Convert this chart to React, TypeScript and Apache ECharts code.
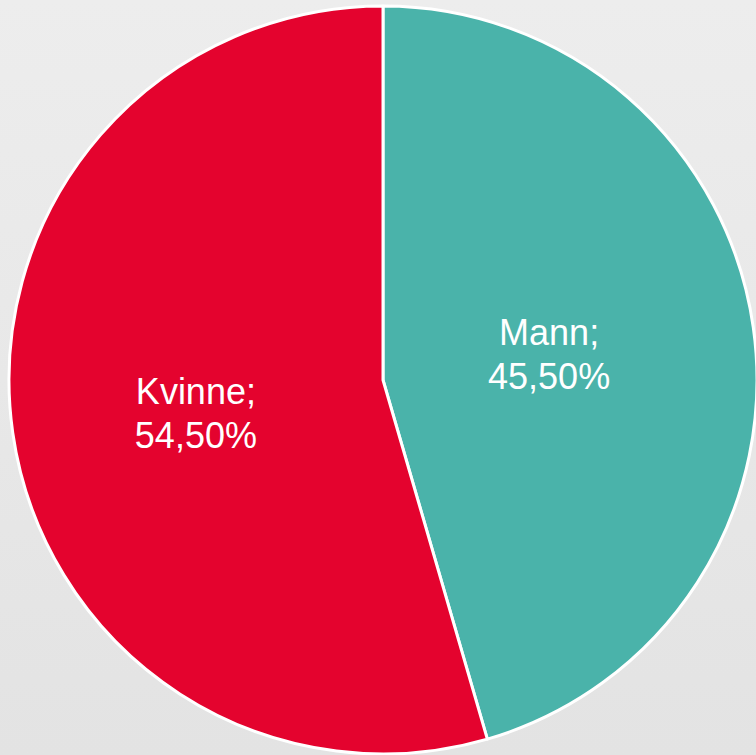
import React, { useEffect, useRef } from "react";
import * as echarts from "echarts";

const categories = ["Mann", "Kvinne"];
const values = [45.5, 54.5];
const colors = ["#4AB3AA", "#E4032E"];
const labelOffsets: number[][] = [[-22, 1], [1, 7]];

export default function App() {
  const ref = useRef<HTMLDivElement>(null);
  useEffect(() => {
    if (!ref.current) return;
    const chart = echarts.init(ref.current, null, { renderer: "svg" });
    chart.setOption({
      animation: false,
      backgroundColor: {
        type: "linear",
        x: 0,
        y: 0,
        x2: 0,
        y2: 1,
        colorStops: [
          { offset: 0, color: "#EDEDED" },
          { offset: 1, color: "#E3E3E3" },
        ],
      },
      series: [
        {
          type: "pie",
          center: [383, 380],
          radius: [0, 374],
          startAngle: 90,
          clockwise: true,
          avoidLabelOverlap: false,
          itemStyle: { borderColor: "#FFFFFF", borderWidth: 3 },
          label: {
            show: true,
            position: "inside",
            color: "#FFFFFF",
            fontFamily: "Liberation Sans, Arial, sans-serif",
            fontSize: 36,
            lineHeight: 44,
            align: "center",
            formatter: (p: any) =>
              p.name + ";\n" + p.value.toFixed(2).replace(".", ",") + "%",
          },
          labelLine: { show: false },
          data: categories.map((c, i) => ({
            name: c,
            value: values[i],
            itemStyle: { color: colors[i] },
            label: { offset: labelOffsets[i] },
          })),
        },
      ],
    });
    return () => chart.dispose();
  }, []);
  return (
    <div
      ref={ref}
      style={{ position: "absolute", left: 0, top: 0, width: 756, height: 755 }}
    />
  );
}
